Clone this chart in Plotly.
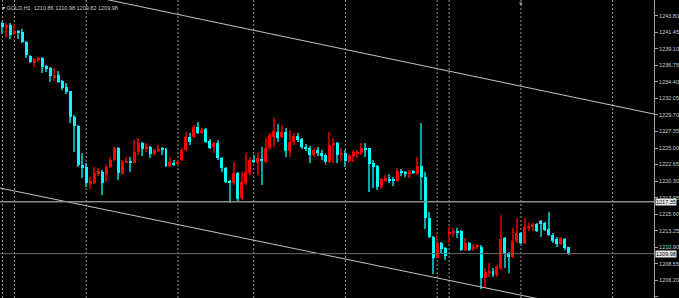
import plotly.graph_objects as go

# ---- data (GOLD, H1 candles) ----
opens = [1242.74,1242.25,1242.50,1241.22,1241.60,1241.50,1240.12,1238.13,1237.13,1237.52,
         1237.76,1236.66,1236.34,1234.92,1235.38,1234.53,1233.64,1233.11,1229.46,1228.18,
         1222.59,1222.26,1219.89,1220.03,1221.41,1221.63,1221.16,1222.26,1223.30,1224.96,
         1221.31,1222.91,1223.20,1222.91,1224.48,1225.67,1224.96,1225.19,1224.15,1224.62,
         1224.86,1224.82,1222.49,1222.83,1222.83,1223.30,1224.72,1226.61,1226.57,1228.03,
         1227.09,1227.66,1226.00,1225.19,1225.67,1223.54,1222.12,1220.31,1219.99,1221.49,
         1217.85,1219.99,1221.41,1223.20,1222.91,1223.44,1223.06,1224.96,1226.61,1227.32,
         1226.53,1227.32,1224.62,1225.81,1226.75,1226.24,1225.19,1224.96,1224.01,1224.72,
         1224.34,1224.01,1223.06,1225.43,1225.67,1224.01,1224.34,1223.20,1223.87,1224.25,
         1224.34,1225.05,1224.96,1222.83,1222.45,1219.50,1220.31,1220.60,1220.60,1220.31,
         1221.73,1221.63,1221.41,1221.73,1221.31,1222.45,1220.92,1215.01,1212.35,1209.40,
         1211.45,1210.74,1212.77,1212.96,1213.24,1213.24,1210.50,1211.54,1210.60,1210.86,
         1210.97,1206.52,1207.19,1207.55,1206.94,1207.90,1212.16,1210.03,1209.46,1211.78,
         1212.87,1211.54,1213.67,1213.81,1214.20,1214.62,1214.30,1213.44,1212.63,1212.02,
         1211.35,1212.06,1210.86]
highs = [1242.92,1242.74,1242.82,1242.64,1241.78,1241.88,1240.22,1238.23,1237.84,1237.99,
         1237.99,1236.81,1236.57,1236.34,1236.00,1234.67,1234.20,1233.11,1229.70,1228.28,
         1224.25,1222.83,1220.92,1222.35,1222.16,1221.88,1222.59,1223.77,1225.10,1225.10,
         1223.30,1223.77,1223.77,1226.14,1226.38,1225.81,1225.67,1225.29,1224.82,1225.43,
         1225.10,1224.96,1223.77,1223.30,1223.30,1224.96,1227.32,1227.09,1228.28,1228.74,
         1227.81,1227.81,1226.24,1225.90,1226.14,1223.77,1222.35,1220.45,1223.06,1221.63,
         1221.63,1224.25,1223.77,1224.01,1224.25,1225.19,1226.38,1227.09,1229.23,1228.42,
         1228.28,1227.85,1227.56,1227.14,1227.14,1226.43,1225.57,1225.29,1225.00,1225.15,
         1224.72,1224.29,1227.32,1226.43,1225.90,1225.00,1224.72,1224.15,1224.72,1224.72,
         1225.72,1225.67,1225.00,1223.30,1222.59,1220.74,1221.16,1221.26,1220.92,1222.16,
         1221.98,1221.78,1221.88,1221.88,1223.77,1228.52,1221.63,1215.95,1212.42,1212.56,
         1211.68,1210.97,1213.73,1213.59,1213.59,1213.34,1212.25,1211.68,1211.35,1211.35,
         1211.14,1207.90,1208.65,1207.90,1208.37,1215.48,1212.39,1210.26,1213.59,1215.01,
         1213.06,1215.01,1214.30,1214.38,1214.30,1214.77,1214.52,1215.95,1212.87,1212.30,
         1212.30,1212.16,1210.98]
lows = [1241.22,1240.75,1240.46,1241.07,1240.46,1239.98,1237.76,1237.05,1236.57,1237.28,
        1235.63,1235.85,1234.43,1234.53,1234.20,1233.25,1232.68,1228.52,1224.48,1222.35,
        1220.70,1219.50,1219.17,1219.89,1221.02,1218.32,1220.21,1222.12,1223.20,1220.45,
        1221.26,1222.83,1221.63,1222.83,1224.01,1223.91,1224.48,1223.54,1224.01,1224.48,
        1224.01,1222.26,1222.35,1222.45,1222.59,1223.20,1224.62,1225.43,1226.43,1226.99,
        1226.99,1225.76,1224.82,1224.25,1223.30,1221.63,1219.99,1217.23,1219.74,1217.51,
        1217.61,1219.74,1221.16,1222.87,1221.16,1219.74,1222.91,1224.72,1225.10,1225.90,
        1226.38,1223.72,1223.72,1225.43,1225.86,1224.86,1224.58,1222.91,1223.72,1223.87,
        1223.30,1222.59,1222.91,1222.87,1222.83,1223.16,1222.35,1222.87,1223.01,1223.58,
        1224.01,1223.77,1218.79,1219.27,1219.03,1219.17,1220.21,1220.07,1219.60,1220.21,
        1221.02,1220.92,1220.70,1221.31,1221.16,1217.61,1213.49,1212.16,1207.09,1209.29,
        1210.03,1209.08,1211.45,1212.30,1212.16,1210.40,1210.40,1210.40,1210.36,1210.64,
        1204.88,1205.10,1206.70,1206.70,1206.70,1207.66,1207.90,1207.27,1209.32,1211.45,
        1211.35,1211.35,1213.24,1213.20,1213.10,1212.35,1213.24,1212.45,1211.54,1210.97,
        1211.21,1210.50,1209.82]
closes = [1242.17,1242.50,1241.03,1241.68,1241.40,1240.08,1238.23,1237.19,1237.52,1237.70,
          1236.48,1236.28,1235.29,1235.38,1234.35,1233.49,1232.92,1229.37,1228.13,1222.59,
          1222.20,1219.99,1220.35,1221.45,1221.69,1220.07,1222.35,1223.30,1224.96,1221.41,
          1222.97,1223.06,1222.91,1224.48,1225.67,1224.86,1225.19,1224.15,1224.72,1224.86,
          1224.72,1222.49,1223.06,1222.69,1222.97,1224.72,1226.61,1225.86,1227.99,1227.09,
          1227.56,1225.90,1225.05,1225.76,1223.54,1222.12,1220.21,1220.13,1221.41,1217.71,
          1220.21,1221.63,1223.30,1223.06,1223.54,1223.16,1224.96,1226.85,1227.46,1226.38,
          1227.32,1224.62,1225.81,1226.75,1226.14,1225.10,1224.82,1224.01,1224.72,1224.25,
          1223.91,1223.06,1225.43,1225.67,1224.01,1224.34,1223.20,1223.87,1224.48,1224.48,
          1225.05,1224.82,1222.73,1222.35,1219.50,1220.55,1220.70,1220.35,1220.31,1221.78,
          1221.41,1221.31,1221.63,1221.41,1222.45,1220.81,1215.01,1212.35,1209.43,1211.54,
          1210.60,1209.60,1213.10,1213.24,1212.96,1210.50,1211.54,1210.50,1210.97,1211.21,
          1206.52,1207.41,1207.55,1206.94,1208.13,1212.02,1209.93,1209.46,1211.78,1212.87,
          1211.54,1213.81,1213.91,1214.20,1213.24,1214.20,1213.34,1212.63,1211.82,1211.35,
          1212.16,1210.74,1209.98]

title_text = "GOLD,H1  1210.86 1210.98 1209.82 1209.98"
tick_labels = ["1243.80","1241.45","1239.10","1236.75","1234.40","1232.05","1229.70",
               "1227.35","1225.00","1222.65","1220.30","1217.95","1215.60","1213.25",
               "1210.90","1208.55","1206.20","1203.85"]
level_line = 1217.35
bid_price = 1209.98
separators = [0, 3, 21, 44, 63, 86, 109, 112, 130, 153]   # bar index of dotted grid lines
shift_marker_bar = 130                                     # chart-shift marker at the top
upper_channel = [(30.5, 1245.60), (163.3, 1229.84)]        # trend-line anchors (bar, price)
lower_channel = [(-0.7, 1219.32), (132.6, 1203.77)]

# ---- figure ----
idx = list(range(len(opens)))
up = [c >= o for o, c in zip(opens, closes)]

fig = go.Figure()

for is_up, body_col, wick_col in [(True, "#ff0000", "#b00000"), (False, "#00ffff", "#00a8a8")]:
    xs = [i for i in idx if up[i] == is_up]
    fig.add_bar(x=xs, y=[highs[i] - lows[i] for i in xs], base=[lows[i] for i in xs],
                width=0.25, marker=dict(color=wick_col, line=dict(width=0)),
                hoverinfo="skip", showlegend=False)
    fig.add_bar(x=xs, y=[max(abs(closes[i] - opens[i]), 0.15) for i in xs],
                base=[min(opens[i], closes[i]) for i in xs],
                width=0.75, marker=dict(color=body_col, line=dict(width=0)),
                hoverinfo="skip", showlegend=False)

def extend(anchors, lo=-50, hi=250):
    (x0, y0), (x1, y1) = anchors
    s = (y1 - y0) / (x1 - x0)
    return [lo, hi], [y0 + s * (lo - x0), y0 + s * (hi - x0)]

for anc in (upper_channel, lower_channel):
    xx, yy = extend(anc)
    fig.add_scatter(x=xx, y=yy, mode="lines", line=dict(color="#c4c4c4", width=1),
                    hoverinfo="skip", showlegend=False)

shapes = []
for s in separators:
    shapes.append(dict(type="line", xref="x", yref="paper", x0=s, x1=s, y0=0, y1=1,
                       line=dict(color="#9a9a9a", width=1, dash="2px,2px"), layer="below"))
shapes.append(dict(type="line", xref="x domain", yref="y", x0=0, x1=1, y0=level_line, y1=level_line,
                   line=dict(color="#8c8c8c", width=1.5)))
shapes.append(dict(type="line", xref="x domain", yref="y", x0=0, x1=1, y0=bid_price, y1=bid_price,
                   line=dict(color="#6a6a6a", width=1)))

annotations = [
    dict(xref="paper", yref="paper", x=0, y=1, xanchor="left", yanchor="top", xshift=0, yshift=-3,
         text="▾ " + title_text, showarrow=False,
         font=dict(family="Liberation Sans", size=5.5, color="#c8c8c8")),
    dict(xref="x", yref="paper", x=shift_marker_bar, y=1, xanchor="center", yanchor="top",
         yshift=2, text="▾", showarrow=False,
         font=dict(family="DejaVu Sans", size=7, color="#9a9a9a")),
]
for v in (level_line, bid_price):
    annotations.append(dict(xref="paper", yref="y", x=1, y=v, xanchor="left", yanchor="middle",
                            xshift=1, text=f"{v:.2f}", showarrow=False, bgcolor="#e8e8e8",
                            borderpad=0, font=dict(family="Liberation Sans", size=5.5, color="#000000")))

fig.update_layout(
    width=679, height=298,
    margin=dict(l=0, r=23, t=0, b=0),
    paper_bgcolor="#000000", plot_bgcolor="#000000",
    barmode="overlay", bargap=0,
    shapes=shapes, annotations=annotations,
    xaxis=dict(range=[-0.625, 163.375], visible=False, showgrid=False, zeroline=False),
    yaxis=dict(range=[1203.67, 1246.05], side="right", showgrid=False, zeroline=False,
               tickvals=[float(t) for t in tick_labels], ticktext=tick_labels,
               ticks="outside", ticklen=3, tickcolor="#a0a0a0", tickwidth=1,
               showline=True, linecolor="#a0a0a0", linewidth=1,
               tickfont=dict(family="Liberation Sans", size=5.5, color="#d0d0d0")),
)

fig.write_html("out.html")
